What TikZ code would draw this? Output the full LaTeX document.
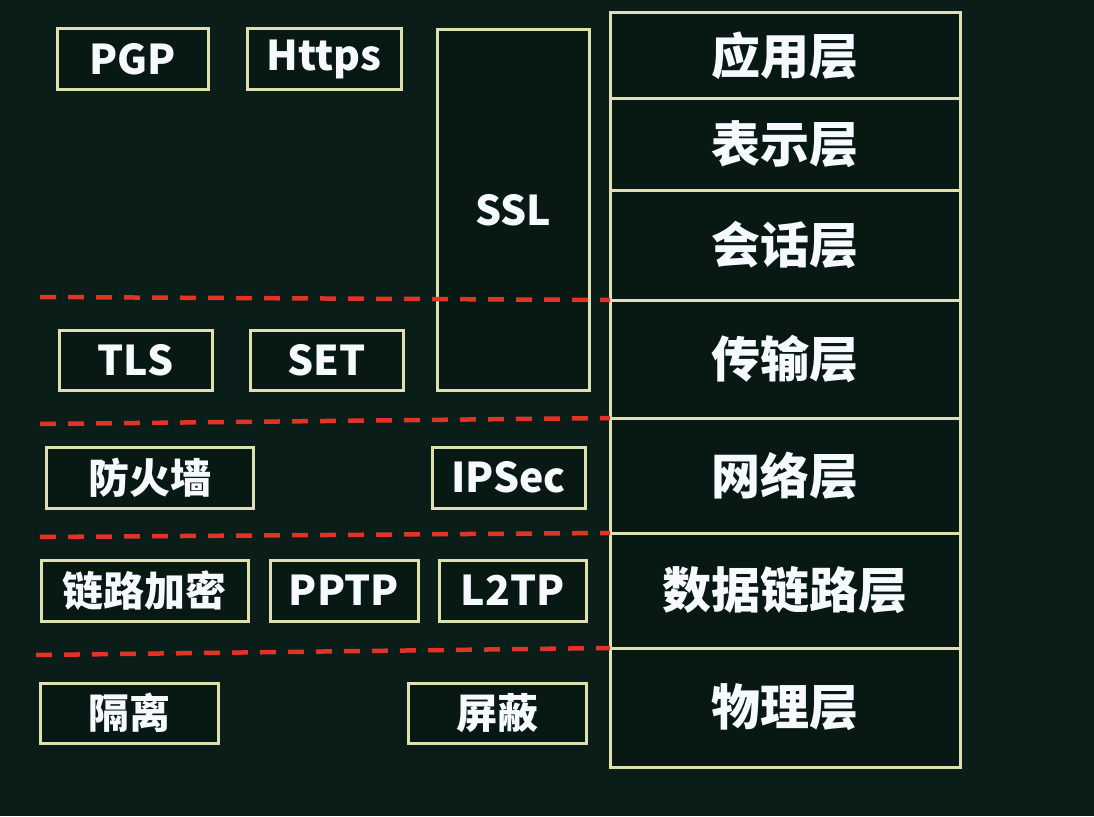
\documentclass[tikz,border=0pt]{standalone}
\usepackage{fontspec}
\setmainfont{Noto Sans CJK SC}
\definecolor{board}{RGB}{11,29,24}
\definecolor{boxin}{RGB}{8,24,19}
\definecolor{frame}{RGB}{222,224,178}
\definecolor{cut}{RGB}{226,52,38}
\definecolor{ink}{RGB}{246,250,255}
\tikzset{
  tag/.style={draw=frame, fill=boxin, line width=3pt, inner sep=0pt, outer sep=0pt,
    text=ink, font=\fontsize{41}{41}\selectfont\bfseries},
  layer/.style={draw=frame, fill=boxin, line width=3pt, inner sep=0pt, outer sep=0pt,
    minimum width=350pt, text=ink, font=\fontsize{49}{49}\selectfont\bfseries},
  cutline/.style={draw=cut, line width=4.5pt, dash pattern=on 16pt off 12pt},
}
\begin{document}
\begin{tikzpicture}[x=1pt, y=-1pt]
  \fill[board] (0,0) rectangle (1094,816);
  \useasboundingbox (0,0) rectangle (1094,816);

  % OSI reference model stack
  \node[layer, minimum height=85pt]  (app)  at (785,55.5)  {应用层};
  \node[layer, minimum height=92pt]  (pres) at (785,144)   {表示层};
  \node[layer, minimum height=110pt] (sess) at (785,245)   {会话层};
  \node[layer, minimum height=118pt] (tran) at (785,359)   {传输层};
  \node[layer, minimum height=115pt] (net)  at (785,475.5) {网络层};
  \node[layer, minimum height=115pt] (link) at (785,590.5) {数据链路层};
  \node[layer, minimum height=119pt] (phy)  at (785,707.5) {物理层};

  % application / session level
  \node[tag, minimum width=151pt, minimum height=60pt] (pgp)   at (132.5,59) {PGP};
  \node[tag, minimum width=154pt, minimum height=60pt] (https) at (324,59)   {Https};
  \node[tag, minimum width=152pt, minimum height=360pt] (ssl)  at (513,210)  {SSL};

  % transport level
  \node[tag, minimum width=153pt, minimum height=60pt] (tls) at (135.5,360) {TLS};
  \node[tag, minimum width=153pt, minimum height=60pt] (set) at (326.5,360) {SET};

  % network level
  \node[tag, minimum width=207pt, minimum height=61pt] (fw)    at (149.5,477.5) {防火墙};
  \node[tag, minimum width=153pt, minimum height=61pt] (ipsec) at (508.5,477.5) {IPSec};

  % data link level
  \node[tag, minimum width=207pt, minimum height=61pt] (lenc) at (144.5,590.5) {链路加密};
  \node[tag, minimum width=148pt, minimum height=61pt] (pptp) at (344,590.5)   {PPTP};
  \node[tag, minimum width=147pt, minimum height=61pt] (l2tp) at (512.5,590.5) {L2TP};

  % physical level
  \node[tag, minimum width=178pt, minimum height=60pt] (iso)    at (129,713) {隔离};
  \node[tag, minimum width=178pt, minimum height=60pt] (shield) at (497,713) {屏蔽};

  % boundaries between groups of security mechanisms (drawn on top)
  \coordinate (c1) at (40,297);
  \coordinate (c2) at (40,424);
  \coordinate (c3) at (40,537);
  \coordinate (c4) at (36,655);
  \draw[cutline] (c1) -- (sess.south west);
  \draw[cutline] (c2) -- (tran.south west);
  \draw[cutline] (c3) -- (net.south west);
  \draw[cutline] (c4) -- (link.south west);
\end{tikzpicture}
\end{document}
